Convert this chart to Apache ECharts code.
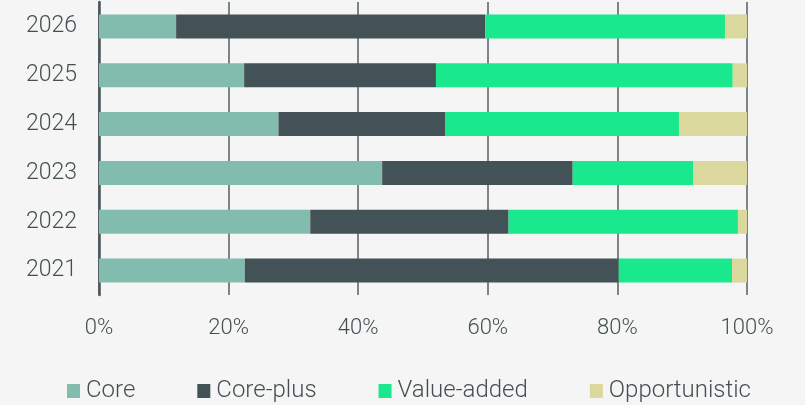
<!DOCTYPE html>
<html>
<head>
<meta charset="utf-8">
<script src="https://cdn.jsdelivr.net/npm/echarts@6/dist/echarts.min.js"></script>
<style>
  html, body { margin: 0; padding: 0; background: #f5f5f5; }
  #chart { width: 805px; height: 405px; }
</style>
</head>
<body>
<div id="chart"></div>
<script>
  // years, bottom to top
  let years = ['2021', '2022', '2023', '2024', '2025', '2026'];
  let core = [22.5, 32.6, 43.7, 27.7, 22.4, 11.9];
  let corePlus = [57.7, 30.6, 29.4, 25.7, 29.6, 47.7];
  let valueAdded = [17.5, 35.4, 18.6, 36.1, 45.8, 37.0];
  let opportunistic = [2.3, 1.4, 8.3, 10.5, 2.2, 3.4];
  let xTicks = [0, 20, 40, 60, 80, 100];

  let textColor = '#434f52';
  let font = 'Roboto';

  let chart = echarts.init(document.getElementById('chart'));
  let mkSeries = function (name, data, color) {
      return {
          name: name,
          type: 'bar',
          stack: 'all',
          barWidth: 24,
          itemStyle: {color: color},
          data: data
      };
  };
  chart.setOption({
      backgroundColor: '#f5f5f5',
      animation: false,
      textStyle: {fontFamily: font},
      grid: {left: 99, right: 58, top: 2, bottom: 110},
      legend: {
          left: 62,
          top: 374,
          itemWidth: 13,
          itemHeight: 14,
          itemGap: 62,
          icon: 'rect',
          textStyle: {color: textColor, fontSize: 24, fontWeight: 300, fontFamily: font, padding: [0, 0, 0, 1]},
          data: ['Core', 'Core-plus', 'Value-added', 'Opportunistic']
      },
      xAxis: {
          type: 'value',
          min: xTicks[0],
          max: xTicks[xTicks.length - 1],
          interval: 20,
          axisLine: {show: false},
          axisTick: {show: false},
          splitLine: {lineStyle: {color: '#5f686b', width: 1.6}},
          axisLabel: {
              color: textColor,
              fontSize: 22,
              fontWeight: 300,
              margin: 22,
              formatter: function (v) { return v + '%'; }
          }
      },
      yAxis: {
          type: 'category',
          data: years,
          axisLine: {show: true, lineStyle: {color: '#4a5558', width: 2.5}},
          axisTick: {show: false},
          axisLabel: {color: textColor, fontSize: 23, fontWeight: 300, margin: 22, padding: [4, 0, 0, 0]}
      },
      series: [
          mkSeries('Core', core, '#82bcae'),
          mkSeries('Core-plus', corePlus, '#435256'),
          mkSeries('Value-added', valueAdded, '#19e88c'),
          mkSeries('Opportunistic', opportunistic, '#dbd89e')
      ]
  });
</script>
</body>
</html>
